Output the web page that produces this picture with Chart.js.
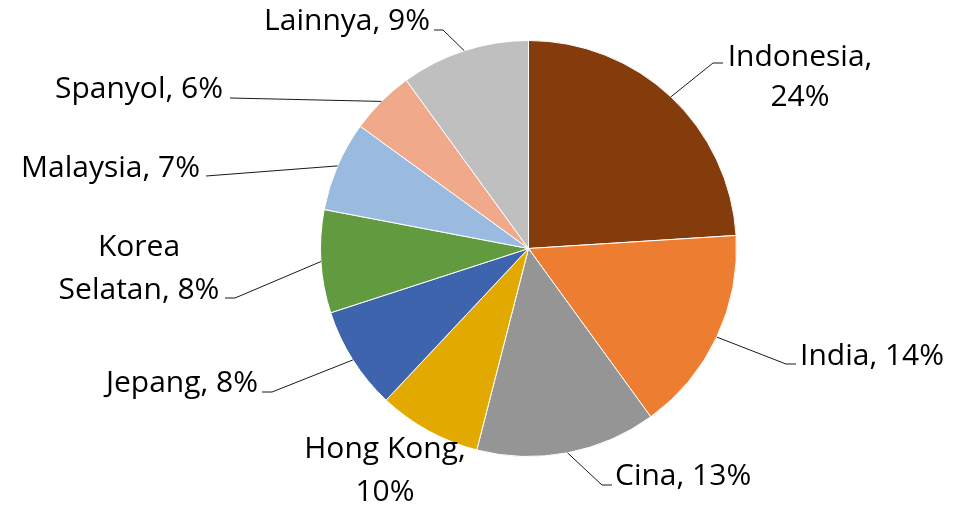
<!DOCTYPE html>
<html>
<head>
<meta charset="utf-8">
<script src="https://cdn.jsdelivr.net/npm/chart.js@4"></script>
<style>
  html, body { margin: 0; padding: 0; background: #ffffff; }
  #wrap { width: 969px; height: 505px; position: relative; }
</style>
</head>
<body>
<div id="wrap"><canvas id="c" width="969" height="505"></canvas></div>
<script>
// ---- data ----
const categories = ["Indonesia", "India", "Cina", "Hong Kong", "Jepang", "Korea Selatan", "Malaysia", "Spanyol", "Lainnya"];
const sliceValues = [24, 16, 14, 8, 8, 8, 7, 5, 10];          // slice sizes as drawn
const labelPercents = [24, 14, 13, 10, 8, 8, 7, 6, 9];         // percentages printed in the labels
const sliceColors = ["#843C0C", "#ED7D31", "#959595", "#E2A900", "#3D64AD", "#629B3F", "#9ABAE0", "#F0A98B", "#BFBFBF"];

// ---- label layout (positions only) ----
const labelLayout = [
  { split: "comma", align: "center", x: 800, y: 66,  lh: 40, elbow: [713, 63],  end: [723, 63] },
  { split: null,    align: "left",   x: 800, y: 365, lh: 40, elbow: [786, 364], end: [796, 364] },
  { split: null,    align: "left",   x: 615, y: 485, lh: 40, elbow: [602, 485], end: [612, 485] },
  { split: "comma", align: "center", x: 385, y: 458, lh: 43, elbow: null,       end: null },
  { split: null,    align: "right",  x: 258, y: 392, lh: 40, elbow: [272, 392], end: [262, 392] },
  { split: "space", align: "center", x: 139, y: 256, lh: 43, elbow: [235, 298], end: [225, 298] },
  { split: null,    align: "right",  x: 200, y: 177, lh: 40, elbow: null,       end: [206, 176] },
  { split: null,    align: "right",  x: 223, y: 98,  lh: 40, elbow: null,       end: [230, 98] },
  { split: null,    align: "right",  x: 430, y: 30,  lh: 40, elbow: [443, 30],  end: [434, 30] }
];

function labelLines(i) {
  const txt = categories[i] + ", " + labelPercents[i] + "%";
  const mode = labelLayout[i].split;
  if (mode === "comma") {
    const k = txt.indexOf(", ");
    return [txt.slice(0, k + 1), txt.slice(k + 2)];
  }
  if (mode === "space") {
    const k = txt.indexOf(" ");
    return [txt.slice(0, k), txt.slice(k + 1)];
  }
  return [txt];
}

const leaderLabels = {
  id: "leaderLabels",
  afterDatasetsDraw(chart) {
    const ctx = chart.ctx;
    const meta = chart.getDatasetMeta(0);
    ctx.save();
    meta.data.forEach((arc, i) => {
      const L = labelLayout[i];
      const p = arc.getProps(["x", "y", "startAngle", "endAngle", "outerRadius"], true);
      const mid = (p.startAngle + p.endAngle) / 2;
      const sx = p.x + Math.cos(mid) * p.outerRadius;
      const sy = p.y + Math.sin(mid) * p.outerRadius;
      if (L.end) {
        ctx.beginPath();
        ctx.strokeStyle = "#1a1a1a";
        ctx.lineWidth = 1;
        ctx.moveTo(sx, sy);
        if (L.elbow) ctx.lineTo(L.elbow[0], L.elbow[1]);
        ctx.lineTo(L.end[0], L.end[1]);
        ctx.stroke();
      }
      ctx.fillStyle = "#000000";
      ctx.font = "30px 'Open Sans', sans-serif";
      ctx.textAlign = L.align;
      ctx.textBaseline = "alphabetic";
      labelLines(i).forEach((line, j) => {
        ctx.fillText(line, L.x, L.y + j * L.lh);
      });
    });
    ctx.restore();
  }
};

new Chart(document.getElementById("c"), {
  type: "pie",
  data: {
    labels: categories,
    datasets: [{
      data: sliceValues,
      backgroundColor: sliceColors,
      borderColor: "#ffffff",
      borderWidth: 1
    }]
  },
  options: {
    responsive: false,
    devicePixelRatio: 1,
    animation: false,
    layout: { padding: { top: 40, bottom: 48, left: 320, right: 232 } },
    plugins: {
      legend: { display: false },
      tooltip: { enabled: false },
      title: { display: false }
    }
  },
  plugins: [leaderLabels]
});
</script>
</body>
</html>
